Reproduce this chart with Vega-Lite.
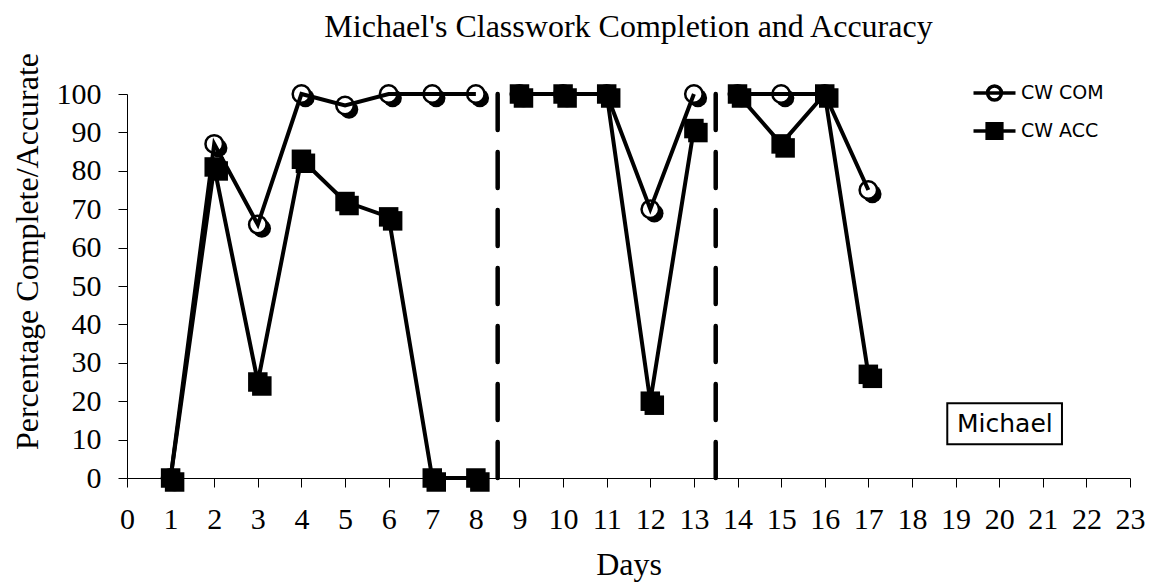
{
  "$schema": "https://vega.github.io/schema/vega-lite/v6.json",
  "width": 1003,
  "height": 384,
  "autosize": "none",
  "padding": {"left": 127, "top": 94, "right": 33, "bottom": 108},
  "background": "white",
  "title": {
    "text": "Michael's Classwork Completion and Accuracy",
    "font": "Liberation Serif",
    "fontSize": 32,
    "fontWeight": "normal",
    "color": "black",
    "baseline": "alphabetic",
    "offset": -17,
    "anchor": "middle",
    "frame": "group"
  },
  "datasets": {
    "scores": [
      {"day": 1, "series": "CW COM", "pct": 0, "phase": 1},
      {"day": 2, "series": "CW COM", "pct": 87, "phase": 1},
      {"day": 3, "series": "CW COM", "pct": 66, "phase": 1},
      {"day": 4, "series": "CW COM", "pct": 100, "phase": 1},
      {"day": 5, "series": "CW COM", "pct": 97, "phase": 1},
      {"day": 6, "series": "CW COM", "pct": 100, "phase": 1},
      {"day": 7, "series": "CW COM", "pct": 100, "phase": 1},
      {"day": 8, "series": "CW COM", "pct": 100, "phase": 1},
      {"day": 9, "series": "CW COM", "pct": 100, "phase": 2},
      {"day": 10, "series": "CW COM", "pct": 100, "phase": 2},
      {"day": 11, "series": "CW COM", "pct": 100, "phase": 2},
      {"day": 12, "series": "CW COM", "pct": 70, "phase": 2},
      {"day": 13, "series": "CW COM", "pct": 100, "phase": 2},
      {"day": 14, "series": "CW COM", "pct": 100, "phase": 3},
      {"day": 15, "series": "CW COM", "pct": 100, "phase": 3},
      {"day": 16, "series": "CW COM", "pct": 100, "phase": 3},
      {"day": 17, "series": "CW COM", "pct": 75, "phase": 3},
      {"day": 1, "series": "CW ACC", "pct": 0, "phase": 1},
      {"day": 2, "series": "CW ACC", "pct": 81, "phase": 1},
      {"day": 3, "series": "CW ACC", "pct": 25, "phase": 1},
      {"day": 4, "series": "CW ACC", "pct": 83, "phase": 1},
      {"day": 5, "series": "CW ACC", "pct": 72, "phase": 1},
      {"day": 6, "series": "CW ACC", "pct": 68, "phase": 1},
      {"day": 7, "series": "CW ACC", "pct": 0, "phase": 1},
      {"day": 8, "series": "CW ACC", "pct": 0, "phase": 1},
      {"day": 9, "series": "CW ACC", "pct": 100, "phase": 2},
      {"day": 10, "series": "CW ACC", "pct": 100, "phase": 2},
      {"day": 11, "series": "CW ACC", "pct": 100, "phase": 2},
      {"day": 12, "series": "CW ACC", "pct": 20, "phase": 2},
      {"day": 13, "series": "CW ACC", "pct": 91, "phase": 2},
      {"day": 14, "series": "CW ACC", "pct": 100, "phase": 3},
      {"day": 15, "series": "CW ACC", "pct": 87, "phase": 3},
      {"day": 16, "series": "CW ACC", "pct": 100, "phase": 3},
      {"day": 17, "series": "CW ACC", "pct": 27, "phase": 3}
    ],
    "phases": [
      {"change_day": 8.5},
      {"change_day": 13.5}
    ],
    "notes": [
      {"label": "Michael", "day": 20.13, "pct": 14.1, "day_from": 18.81, "day_to": 21.44, "pct_from": 8.78, "pct_to": 19.45}
    ]
  },
  "config": {
    "view": {"stroke": null},
    "axis": {
      "grid": false,
      "domainColor": "black",
      "domainWidth": 1,
      "tickColor": "black",
      "tickWidth": 1,
      "tickSize": 9,
      "labelColor": "black",
      "titleColor": "black",
      "labelFont": "Liberation Serif",
      "titleFont": "Liberation Serif",
      "labelFontSize": 30,
      "titleFontSize": 32,
      "titleFontWeight": "normal",
      "labelOverlap": false,
      "labelFlush": false
    }
  },
  "layer": [
    {
      "data": {"name": "scores"},
      "mark": {"type": "line", "color": "black", "strokeWidth": 4},
      "encoding": {
        "x": {"field": "day", "type": "quantitative", "scale": {"domain": [0, 23], "nice": false, "zero": false},
          "axis": {"title": "Days", "values": [0,1,2,3,4,5,6,7,8,9,10,11,12,13,14,15,16,17,18,19,20,21,22,23], "tickCount": 40, "format": "d", "labelOverlap": false, "labelBaseline": "alphabetic", "labelPadding": 41, "titleBaseline": "alphabetic", "titleY": 96}},
        "y": {"field": "pct", "type": "quantitative", "scale": {"domain": [0, 100], "nice": false},
          "axis": {"title": "Percentage Complete/Accurate", "values": [0,10,20,30,40,50,60,70,80,90,100], "tickCount": 20, "format": "d", "labelOverlap": false, "labelPadding": 17, "titleX": -100, "titleY": 157, "titleBaseline": "middle", "titleAlign": "center"}},
        "detail": [{"field": "series"}, {"field": "phase"}],
        "opacity": {"value": 0}
      }
    },
    {
      "data": {"name": "phases"},
      "mark": {"type": "rule", "color": "black", "strokeWidth": 4.5, "strokeDash": [36, 22], "strokeCap": "round"},
      "encoding": {
        "x": {"field": "change_day", "type": "quantitative"},
        "y": {"datum": 0, "type": "quantitative"},
        "y2": {"datum": 100}
      }
    },
    {
      "data": {"name": "scores"},
      "transform": [{"filter": "datum.series === 'CW COM'"}],
      "mark": {"type": "point", "shape": "circle", "filled": true, "color": "black", "size": 340, "opacity": 1, "xOffset": 4, "yOffset": 4},
      "encoding": {
        "x": {"field": "day", "type": "quantitative"},
        "y": {"field": "pct", "type": "quantitative"}
      }
    },
    {
      "data": {"name": "scores"},
      "transform": [{"filter": "datum.series === 'CW ACC'"}],
      "mark": {"type": "point", "shape": "square", "filled": true, "color": "black", "size": 380, "opacity": 1, "xOffset": 4, "yOffset": 4},
      "encoding": {
        "x": {"field": "day", "type": "quantitative"},
        "y": {"field": "pct", "type": "quantitative"}
      }
    },
    {
      "data": {"name": "scores"},
      "transform": [{"filter": "datum.series === 'CW COM'"}],
      "mark": {"type": "point", "shape": "circle", "fill": "white", "stroke": "black", "strokeWidth": 2.5, "size": 306, "opacity": 1},
      "encoding": {
        "x": {"field": "day", "type": "quantitative"},
        "y": {"field": "pct", "type": "quantitative"}
      }
    },
    {
      "data": {"name": "scores"},
      "mark": {"type": "line", "color": "black", "strokeWidth": 4},
      "encoding": {
        "x": {"field": "day", "type": "quantitative"},
        "y": {"field": "pct", "type": "quantitative"},
        "detail": [{"field": "series"}, {"field": "phase"}]
      }
    },
    {
      "data": {"name": "scores"},
      "transform": [{"filter": "datum.series === 'CW ACC'"}],
      "mark": {"type": "point", "shape": "square", "filled": true, "color": "black", "size": 380, "opacity": 1},
      "encoding": {
        "x": {"field": "day", "type": "quantitative"},
        "y": {"field": "pct", "type": "quantitative"}
      }
    },
    {
      "data": {"name": "notes"},
      "mark": {"type": "rect", "fill": "white", "stroke": "black", "strokeWidth": 2},
      "encoding": {
        "x": {"field": "day_from", "type": "quantitative"},
        "x2": {"field": "day_to"},
        "y": {"field": "pct_from", "type": "quantitative"},
        "y2": {"field": "pct_to"}
      }
    },
    {
      "data": {"name": "notes"},
      "mark": {"type": "text", "font": "DejaVu Sans", "fontSize": 25, "color": "black", "align": "center", "baseline": "middle"},
      "encoding": {
        "x": {"field": "day", "type": "quantitative"},
        "y": {"field": "pct", "type": "quantitative"},
        "text": {"field": "label"}
      }
    },
    {
      "data": {"name": "scores"},
      "mark": {"type": "point", "opacity": 0, "strokeWidth": 3.5},
      "encoding": {
        "x": {"field": "day", "type": "quantitative"},
        "y": {"field": "pct", "type": "quantitative"},
        "shape": {"field": "series", "type": "nominal",
          "scale": {"domain": ["CW COM", "CW ACC"], "range": ["M-2,0L2,0M0.66,0A0.66,0.66,0,1,1,-0.66,0A0.66,0.66,0,1,1,0.66,0", "M-2,0L2,0M-0.7,-0.7L0.7,-0.7L0.7,0.7L-0.7,0.7Z"]},
          "legend": {"title": null, "orient": "none", "legendX": 855, "legendY": -13.5, "padding": 0, "offset": 0,
            "symbolSize": 441, "symbolOpacity": 1, "symbolStrokeColor": "black", "symbolStrokeWidth": 3.5,
            "labelFont": "DejaVu Sans", "labelFontSize": 19, "labelColor": "black", "labelOffset": 14, "rowPadding": 9}},
        "fill": {"field": "series", "type": "nominal",
          "scale": {"domain": ["CW COM", "CW ACC"], "range": ["white", "black"]},
          "legend": {"title": null, "orient": "none", "legendX": 855, "legendY": -13.5, "padding": 0, "offset": 0,
            "symbolSize": 441, "symbolOpacity": 1, "symbolStrokeColor": "black", "symbolStrokeWidth": 3.5,
            "labelFont": "DejaVu Sans", "labelFontSize": 19, "labelColor": "black", "labelOffset": 14, "rowPadding": 9}},
        "stroke": {"field": "series", "type": "nominal",
          "scale": {"domain": ["CW COM", "CW ACC"], "range": ["black", "black"]},
          "legend": {"title": null, "orient": "none", "legendX": 855, "legendY": -13.5, "padding": 0, "offset": 0,
            "symbolSize": 441, "symbolOpacity": 1, "symbolStrokeColor": "black", "symbolStrokeWidth": 3.5,
            "labelFont": "DejaVu Sans", "labelFontSize": 19, "labelColor": "black", "labelOffset": 14, "rowPadding": 9}}
      }
    }
  ]
}
